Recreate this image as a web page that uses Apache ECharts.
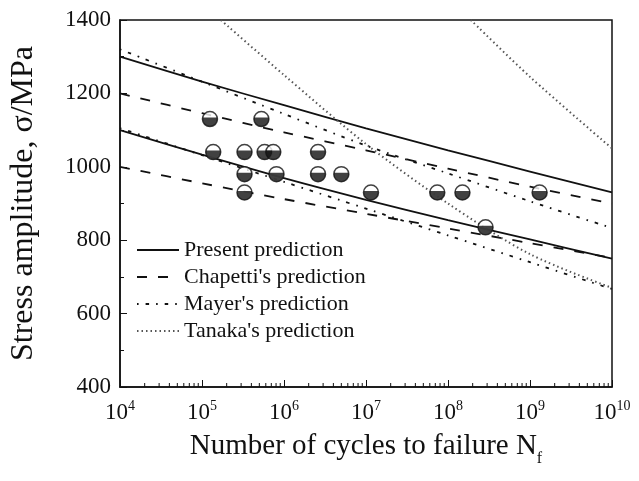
<!DOCTYPE html>
<html>
<head>
<meta charset="utf-8">
<script src="https://cdn.jsdelivr.net/npm/echarts@6/dist/echarts.min.js"></script>
<style>
  html, body { margin: 0; padding: 0; background: #fff; }
  #chart { width: 639px; height: 481px; }
</style>
</head>
<body>
<div id="chart"></div>
<script>
// cycles at each decade, used by the prediction curves
const cycles = [1e4, 1e5, 1e6, 1e7, 1e8, 1e9, 1e10]

const presentUpper = [1300, 1232, 1168, 1105, 1045, 987, 930]
const presentLower = [1100, 1033, 969, 910, 855, 802, 750]
const chapettiUpper = [1200, 1146, 1094, 1045, 995, 946, 900]
const chapettiLower = [1000, 955, 912, 872, 832, 792, 752]
const mayerUpper = [1320, 1232, 1144, 1058, 982, 906, 833]
const mayerLower = [1105, 1032, 959, 886, 813, 740, 667]

const tanakaLeftN = [1.7e5, 1e6, 1e7, 1e8, 1e9, 1e10]
const tanakaLeft = [1400, 1250, 1062, 900, 762, 670]
const tanakaRightN = [1.9e8, 1e9, 1e10]
const tanakaRight = [1400, 1245, 1050]

// test results
const testN = [1.25e5, 5.3e5, 1.37e5, 3.3e5, 5.8e5, 7.4e5, 2.6e6, 3.3e5, 8.1e5, 2.6e6, 5.0e6,
  3.3e5, 1.15e7, 7.4e7, 1.5e8, 1.31e9, 2.87e8]
const testS = [1130, 1130, 1040, 1040, 1040, 1040, 1040, 980, 980, 980, 980,
  930, 930, 930, 930, 930, 835]

const yTicks = [400, 600, 800, 1000, 1200, 1400]
const minorMult = [2, 3, 4, 5, 6, 7, 8, 9]

const names = ['Present prediction', "Chapetti's prediction", "Mayer's prediction", "Tanaka's prediction"]

const serif = 'Liberation Serif'
const ink = '#111'

const pair = (xs, ys) => xs.map((x, i) => [x, ys[i]])

const minorTicks = []
for (let d = 4; d < 10; d++) {
  minorMult.forEach(m => minorTicks.push([m * Math.pow(10, d), yTicks[0]]))
}

const lineSeries = (name, xs, ys, type, width, color) => ({
  name,
  type: 'line',
  data: pair(xs, ys),
  smooth: 0.3,
  symbol: 'none',
  showSymbol: false,
  silent: true,
  color: color || ink,
  lineStyle: { color: color || ink, width: width, type: type }
})

const solid = 'solid'
const dashed = [10, 11]
const dashDot = [1.6, 7, 3.5, 7]
const dotted = [1.5, 3]

const chart = echarts.init(document.getElementById('chart'))

chart.setOption({
  animation: false,
  backgroundColor: '#fff',
  grid: {
    left: 118, right: 27, top: 20, bottom: 94,
    show: true, borderColor: ink, borderWidth: 1.5
  },
  legend: {
    data: names,
    orient: 'vertical',
    left: 131,
    top: 234,
    itemWidth: 42,
    itemHeight: 12,
    itemGap: 5,
    selectedMode: false,
    itemStyle: { opacity: 0 },
    textStyle: { fontFamily: serif, fontSize: 22, color: ink, lineHeight: 22 }
  },
  xAxis: {
    type: 'log',
    logBase: 10,
    min: 1e4,
    max: 1e10,
    interval: 1,
    splitNumber: 6,
    name: '{n|Number of cycles to failure N}{sub|f}',
    nameLocation: 'middle',
    nameGap: 45,
    nameTextStyle: {
      rich: {
        n: { fontFamily: serif, fontSize: 29, color: ink, verticalAlign: 'bottom', padding: [0, 0, 6, 0] },
        sub: { fontFamily: serif, fontSize: 16, color: ink, verticalAlign: 'bottom' }
      }
    },
    axisLine: { lineStyle: { color: ink, width: 1.5 } },
    axisTick: { inside: true, length: 7, lineStyle: { color: ink } },
    splitLine: { show: false },
    axisLabel: {
      margin: 12,
      showMinLabel: true,
      showMaxLabel: true,
      formatter: v => '{b|10}{sup|' + Math.round(Math.log10(v)) + '}',
      rich: {
        b: { fontFamily: serif, fontSize: 23, color: ink, verticalAlign: 'bottom' },
        sup: { fontFamily: serif, fontSize: 14, color: ink, verticalAlign: 'bottom', padding: [0, 0, 11, 0] }
      }
    }
  },
  yAxis: {
    type: 'value',
    min: 400,
    max: 1400,
    interval: 200,
    name: 'Stress amplitude, σ/MPa',
    nameLocation: 'middle',
    nameGap: 80,
    nameTextStyle: { fontFamily: serif, fontSize: 32, color: ink },
    axisLine: { show: true, lineStyle: { color: ink, width: 1.5 } },
    axisTick: { show: true, inside: true, length: 7, lineStyle: { color: ink } },
    minorTick: { show: true, splitNumber: 2, length: 4, lineStyle: { color: ink } },
    splitLine: { show: false },
    axisLabel: { margin: 9, fontFamily: serif, fontSize: 23, color: ink, formatter: v => String(v) }
  },
  series: [
    lineSeries(names[0], cycles, presentUpper, solid, 1.8),
    lineSeries(names[0], cycles, presentLower, solid, 1.8),
    lineSeries(names[1], cycles, chapettiUpper, dashed, 1.8),
    lineSeries(names[1], cycles, chapettiLower, dashed, 1.8),
    lineSeries(names[2], cycles, mayerUpper, dashDot, 1.8),
    lineSeries(names[2], cycles, mayerLower, dashDot, 1.8),
    lineSeries(names[3], tanakaLeftN, tanakaLeft, dotted, 2, '#555'),
    lineSeries(names[3], tanakaRightN, tanakaRight, dotted, 2, '#555'),
    {
      // white top of each marker
      type: 'scatter',
      silent: true,
      z: 5,
      data: pair(testN, testS),
      symbol: 'circle',
      symbolSize: 15,
      itemStyle: { color: '#fff', borderColor: ink, borderWidth: 1.5 }
    },
    {
      // black lower part, a bit more than half
      type: 'scatter',
      silent: true,
      z: 6,
      data: pair(testN, testS),
      symbol: 'path://M-0.98,-0.2 A1,1 0 1 0 0.98,-0.2 Z',
      symbolSize: [15, 9],
      symbolOffset: [0, 3],
      itemStyle: { color: ink }
    },
    {
      // log minor ticks on the bottom axis
      type: 'custom',
      silent: true,
      z: 10,
      clip: false,
      data: minorTicks,
      renderItem: (params, api) => {
        const p = api.coord([api.value(0), api.value(1)])
        return {
          type: 'line',
          shape: { x1: p[0], y1: p[1], x2: p[0], y2: p[1] - 4 },
          style: { stroke: ink, lineWidth: 1 }
        }
      }
    }
  ]
})
</script>
</body>
</html>
